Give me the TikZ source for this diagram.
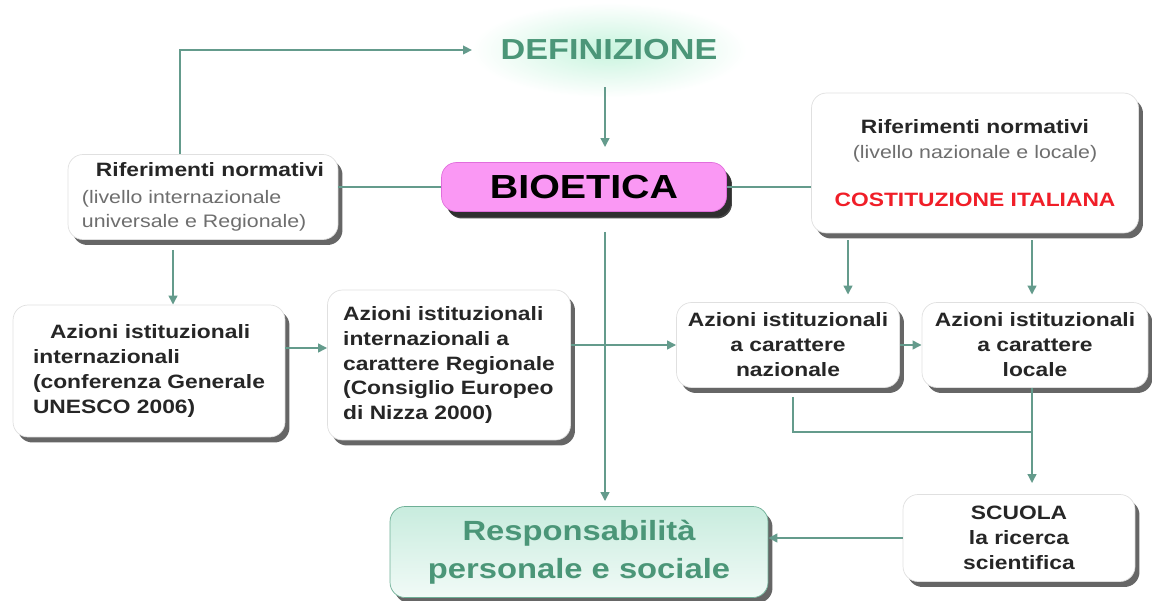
\documentclass[tikz,border=0pt]{standalone}
\usepackage{fontspec}
\setmainfont[FakeStretch=1.18]{Liberation Sans}
\usetikzlibrary{arrows.meta,shapes.geometric,shadows}
\definecolor{verdelinea}{RGB}{100,155,140}
\definecolor{verdetesto}{RGB}{75,150,120}
\definecolor{menta}{RGB}{200,244,222}
\definecolor{rosa}{RGB}{250,152,244}
\definecolor{rosabordo}{RGB}{225,110,220}
\definecolor{rosso}{RGB}{240,30,40}
\definecolor{grigio}{RGB}{110,110,110}
\definecolor{acqua}{RGB}{200,236,222}
\definecolor{acquabordo}{RGB}{110,175,150}
\newcommand\grigio{\mdseries\fontsize{10.3}{12.4}\selectfont\color{grigio}}

\begin{document}
\begin{tikzpicture}[x=0.02cm, y=-0.02cm,
  box/.style={draw=black!12, fill=white, rounded corners=0.3cm, inner sep=0pt,
    font=\bfseries\fontsize{11}{14.2}\selectfont, text=black!85,
    drop shadow={shadow xshift=0.09cm, shadow yshift=-0.11cm, fill=black!80, opacity=0.75}},
  filo/.style={draw=verdelinea, line width=1.3pt},
  freccia/.style={filo, -{Triangle[length=1.8mm, width=1.7mm]}}]
  \useasboundingbox (0,0) rectangle (1152,601);

  \shade[inner color=menta, outer color=white] (609,50) ellipse [x radius=2.75cm, y radius=0.95cm];
  \node[font=\bfseries\fontsize{16.5}{20}\selectfont, text=verdetesto] (def) at (609,50) {DEFINIZIONE};
  \node[box, fill=rosa, draw=rosabordo, minimum width=5.7cm, minimum height=0.98cm,
    font=\bfseries\fontsize{19}{22}\selectfont, text=black,
    drop shadow={shadow xshift=0.11cm, shadow yshift=-0.14cm, fill=black!85, opacity=0.85}] (bio) at (584,187) {BIOETICA};
  \node[box, minimum width=5.4cm, minimum height=1.7cm, align=left] (rifL) at (203,197)
    {\hspace*{0.28cm}Riferimenti normativi\\[1pt]\grigio (livello internazionale\\\grigio universale e Regionale)};
  \node[box, minimum width=6.54cm, minimum height=2.8cm, align=center] (rifR) at (975,163)
    {Riferimenti normativi\\\grigio (livello nazionale e locale)\\[0.45cm]\color{rosso}COSTITUZIONE ITALIANA};
  \node[box, minimum width=5.44cm, minimum height=2.64cm, align=left] (intl) at (149,371)
    {\hspace*{0.34cm}Azioni istituzionali\\internazionali\\(conferenza Generale\\UNESCO 2006)};
  \node[box, minimum width=4.86cm, minimum height=3.0cm, align=left] (reg) at (449,365)
    {Azioni istituzionali\\internazionali a\\carattere Regionale\\(Consiglio Europeo\\di Nizza 2000)};
  \node[box, minimum width=4.46cm, minimum height=1.7cm, align=center] (naz) at (788,345)
    {Azioni istituzionali\\a carattere\\nazionale};
  \node[box, minimum width=4.52cm, minimum height=1.7cm, align=center] (loc) at (1035,345)
    {Azioni istituzionali\\a carattere\\locale};
  \node[box, minimum width=4.64cm, minimum height=1.74cm, align=center] (scuola) at (1019,538)
    {SCUOLA\\la ricerca\\scientifica};
  \node[box, top color=acqua, bottom color=acqua!25, draw=acquabordo, minimum width=7.56cm, minimum height=1.82cm,
    align=center, font=\bfseries\fontsize{15.8}{21.5}\selectfont, text=verdetesto] (resp) at (579,552)
    {Responsabilità\\personale e sociale};

  \coordinate (xa) at (180,0);
  \coordinate (xb) at (173,0);
  \coordinate (asse) at (605,0);
  \coordinate (xc) at (848,0);
  \coordinate (xd) at (1032,0);
  \coordinate (xe) at (793,0);
  \coordinate (ya) at (0,348);
  \coordinate (giunz) at (1032,432);

  \draw[freccia] (rifL.north -| xa) |- ([xshift=-2.74cm]def.center);
  \draw[freccia, shorten >=0.3cm] ([yshift=-0.42cm]def.south -| asse) -- (bio.north -| asse);
  \draw[filo] (bio.west -| rifL.east) -- (bio.west);
  \draw[filo] (bio.east) -- (bio.east -| rifR.west);
  \draw[freccia, shorten <=0.4cm, shorten >=0.1cm] (bio.south -| asse) -- (resp.north -| asse);
  \draw[freccia, shorten <=0.2cm] (rifL.south -| xb) -- (intl.north -| xb);
  \draw[freccia] (intl.east |- ya) -- (reg.west |- ya);
  \draw[freccia] (reg.east |- naz.west) -- (naz.west);
  \draw[freccia, shorten <=0.14cm, shorten >=0.15cm] (rifR.south -| xc) -- (naz.north -| xc);
  \draw[freccia, shorten <=0.14cm, shorten >=0.15cm] (rifR.south -| xd) -- (loc.north -| xd);
  \draw[freccia] (naz.east) -- (loc.west);
  \draw[filo, shorten <=0.18cm] (naz.south -| xe) |- (giunz);
  \draw[freccia, shorten >=0.22cm] (loc.south -| xd) -- (scuola.north -| xd);
  \draw[freccia] (scuola.west) -- (scuola.west -| resp.east);
\end{tikzpicture}
\end{document}
